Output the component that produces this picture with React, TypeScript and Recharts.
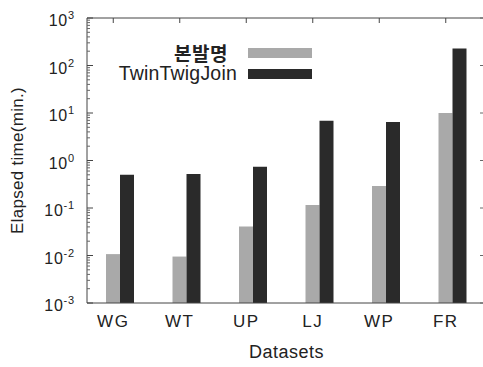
import React from "react";
import { BarChart, Bar, Line, XAxis, YAxis, Legend, Label } from "recharts";

const categories = ["WG", "WT", "UP", "LJ", "WP", "FR"];
// elapsed time in minutes
const proposedMinutes = [0.0107, 0.0095, 0.041, 0.116, 0.29, 10];
const twinTwigMinutes = [0.5, 0.52, 0.74, 6.9, 6.5, 228];

const decadeTicks = [0.001, 0.01, 0.1, 1, 10, 100, 1000];
const decadeExponents = ["-3", "-2", "-1", "0", "1", "2", "3"];
const minorMultipliers = [2, 3, 4, 5, 6, 7, 8, 9];

const seriesNames = ["본발명", "TwinTwigJoin"];
const seriesColors = ["#a9a9a9", "#2a2a2a"];

const data = categories.map((name, i) => ({
  name,
  proposed: proposedMinutes[i],
  twinTwig: twinTwigMinutes[i],
}));

const minorTicks = decadeTicks
  .slice(0, -1)
  .flatMap((d) => minorMultipliers.map((m) => d * m));
const allYTicks = [...decadeTicks, ...minorTicks].sort((a, b) => a - b);

const FONT = "'Liberation Sans', Arial, Helvetica, sans-serif";
const INK = "#222";
const AXIS = "#444";
const BAR_W = 14;

function LeftTick(props: any) {
  const { x, y, payload } = props;
  const idx = decadeTicks.indexOf(payload.value);
  if (idx < 0) {
    return <line x1={x} x2={x + 3} y1={y} y2={y} stroke="#666" />;
  }
  return (
    <g>
      <line x1={x} x2={x + 6} y1={y} y2={y} stroke={AXIS} />
      <text x={x - 12} y={y + 8} textAnchor="end" fontSize={16} letterSpacing={0.8} fill={INK} fontFamily={FONT}>
        10
        <tspan dy={-7} fontSize={11}>
          {decadeExponents[idx]}
        </tspan>
      </text>
    </g>
  );
}

function RightTick(props: any) {
  const { x, y, payload } = props;
  const major = decadeTicks.indexOf(payload.value) >= 0;
  return <line x1={x} x2={x - (major ? 6 : 3)} y1={y} y2={y} stroke="#666" />;
}

function TopTick(props: any) {
  const { x, y } = props;
  // gnuplot puts the tick on the first bar of each cluster
  return <line x1={x - BAR_W / 2} x2={x - BAR_W / 2} y1={y} y2={y + 5} stroke={AXIS} />;
}

function BottomTick(props: any) {
  const { x, y, payload } = props;
  return (
    <text
      x={x - BAR_W / 2}
      y={y + 24}
      textAnchor="middle"
      fontSize={17}
      letterSpacing={1.5}
      fill={INK}
      fontFamily={FONT}
    >
      {payload.value}
    </text>
  );
}

function LegendBox() {
  return (
    <div style={{ fontFamily: FONT, color: INK }}>
      {seriesNames.map((n, i) => (
        <div key={n} style={{ display: "flex", alignItems: "center", height: 21 }}>
          <div
            style={{
              width: 137,
              textAlign: "right",
              paddingRight: i === 0 ? 9 : 0,
              boxSizing: "border-box",
              fontSize: i === 0 ? 19 : 19.5,
              fontWeight: i === 0 ? 700 : 400,
              fontFamily: i === 0 ? "'Noto Sans CJK KR', sans-serif" : FONT,
              letterSpacing: i === 0 ? 0.5 : 0.2,
              lineHeight: "21px",
              whiteSpace: "nowrap",
            }}
          >
            {n}
          </div>
          <div style={{ width: 64, height: 10, marginLeft: 11, background: seriesColors[i] }} />
        </div>
      ))}
    </div>
  );
}

export default function App() {
  return (
    <div
      style={{
        position: "absolute",
        left: 0,
        top: 0,
        width: 483,
        height: 367,
        overflow: "hidden",
        background: "#fff",
      }}
    >
      <BarChart
        width={500}
        height={367}
        data={data}
        margin={{ top: 17, right: 4, bottom: 0, left: 0 }}
        barSize={BAR_W}
        barGap={0}
      >
        <XAxis
          dataKey="name"
          height={64}
          tickLine={false}
          tick={<BottomTick />}
          tickSize={0}
          tickMargin={0}
          interval={0}
          axisLine={{ stroke: AXIS }}
        >
          <Label
            value="Datasets"
            position="insideBottom"
            offset={9}
            fontSize={18}
            letterSpacing={0.5}
            fill={INK}
            fontFamily={FONT}
          />
        </XAxis>
        <XAxis
          xAxisId="top"
          dataKey="name"
          orientation="top"
          height={1}
          tickLine={false}
          tick={<TopTick />}
          tickSize={0}
          tickMargin={0}
          interval={0}
          axisLine={{ stroke: AXIS }}
        />
        <YAxis
          type="number"
          scale="log"
          domain={[0.001, 1000]}
          allowDataOverflow
          ticks={allYTicks}
          interval={0}
          width={87}
          tickLine={false}
          tickSize={0}
          tickMargin={0}
          tick={<LeftTick />}
          axisLine={{ stroke: AXIS }}
        >
          <Label
            content={() => (
              <text
                transform="translate(23,160.5) rotate(-90)"
                textAnchor="middle"
                fontSize={17}
                letterSpacing={0.3}
                fill={INK}
                fontFamily={FONT}
              >
                Elapsed time(min.)
              </text>
            )}
          />
        </YAxis>
        <YAxis
          yAxisId="right"
          orientation="right"
          type="number"
          scale="log"
          domain={[0.001, 1000]}
          allowDataOverflow
          ticks={allYTicks}
          interval={0}
          width={10}
          tickLine={false}
          tickSize={0}
          tickMargin={0}
          tick={<RightTick />}
          axisLine={{ stroke: AXIS }}
        />
        <Legend
          layout="vertical"
          align="center"
          verticalAlign="middle"
          content={<LegendBox />}
          wrapperStyle={{ left: 100, top: 42, width: 220 }}
        />
        <Bar dataKey="proposed" name={seriesNames[0]} fill={seriesColors[0]} isAnimationActive={false} />
        <Bar dataKey="twinTwig" name={seriesNames[1]} fill={seriesColors[1]} isAnimationActive={false} />
        {/* invisible series so the mirrored top/right axes get drawn */}
        <Line
          xAxisId="top"
          yAxisId="right"
          dataKey="twinTwig"
          stroke="none"
          dot={false}
          activeDot={false}
          legendType="none"
          isAnimationActive={false}
        />
      </BarChart>
    </div>
  );
}
